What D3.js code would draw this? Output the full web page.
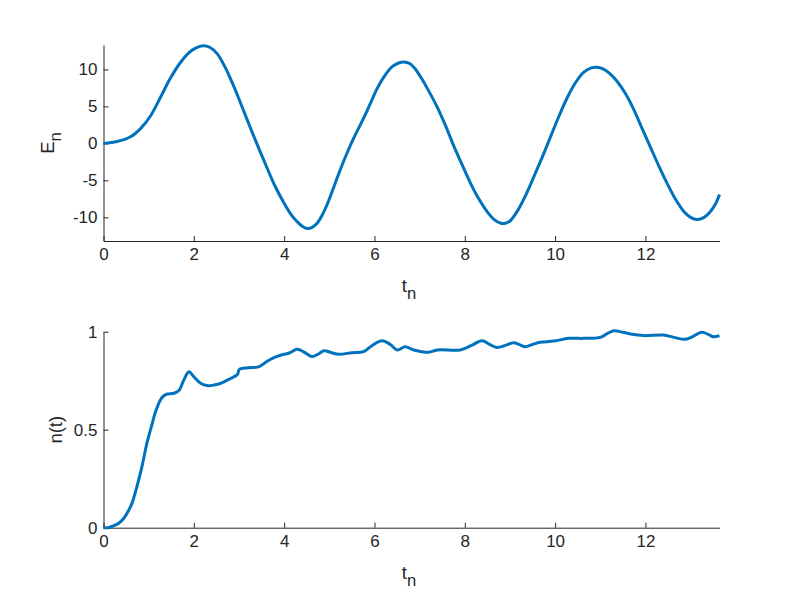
<!DOCTYPE html>
<html>
<head>
<meta charset="utf-8">
<script src="https://cdn.jsdelivr.net/npm/d3@7"></script>
<style>
  html, body { margin: 0; padding: 0; background: #fff; }
  svg { display: block; }
  text { font-family: "Liberation Sans", Arial, Helvetica, sans-serif; fill: #262626; }
</style>
</head>
<body>
<script>
// ---- data ----
const tE = [0, 0.3, 0.6, 0.82, 1.04, 1.26, 1.48, 1.7, 1.9, 2.05, 2.2, 2.35, 2.52, 2.7, 2.85, 3.0, 3.2, 3.4, 3.62, 3.8, 3.99, 4.15, 4.29, 4.4, 4.51, 4.62, 4.73, 4.85, 4.95, 5.1, 5.24, 5.4, 5.54, 5.76, 5.91, 6.05, 6.21, 6.4, 6.55, 6.65, 6.78, 6.9, 7.02, 7.2, 7.39, 7.58, 7.76, 7.95, 8.12, 8.3, 8.49, 8.65, 8.8, 8.9, 9.0, 9.16, 9.35, 9.53, 9.72, 9.9, 10.08, 10.27, 10.45, 10.63, 10.8, 10.93, 11.05, 11.2, 11.37, 11.55, 11.74, 11.92, 12.11, 12.3, 12.48, 12.67, 12.85, 13.0, 13.14, 13.3, 13.44, 13.55, 13.64];
const E  = [0, 0.25, 0.9, 2.0, 3.7, 6.2, 8.8, 10.9, 12.3, 12.9, 13.2, 13.0, 12.1, 10.2, 8.2, 6.0, 2.9, -0.1, -3.3, -5.8, -8.0, -9.6, -10.6, -11.2, -11.5, -11.35, -10.8, -9.6, -8.3, -5.9, -3.6, -1.2, 0.7, 3.4, 5.4, 7.3, 9.0, 10.4, 10.9, 11.0, 10.8, 10.1, 9.0, 7.1, 4.9, 2.3, -0.4, -3.0, -5.3, -7.4, -9.2, -10.3, -10.8, -10.8, -10.5, -9.2, -7.0, -4.5, -1.8, 0.9, 3.6, 6.2, 8.2, 9.6, 10.2, 10.3, 10.1, 9.5, 8.4, 6.8, 4.6, 2.1, -0.5, -3.1, -5.4, -7.6, -9.2, -10.0, -10.3, -10.0, -9.2, -8.2, -6.9];

const tN = [0, 0.1, 0.22, 0.35, 0.45, 0.55, 0.63, 0.74, 0.85, 0.96, 1.07, 1.15, 1.26, 1.33, 1.41, 1.56, 1.67, 1.78, 1.89, 2.0, 2.15, 2.3, 2.45, 2.6, 2.8, 2.97, 3.0, 3.1, 3.3, 3.45, 3.6, 3.75, 3.92, 4.1, 4.29, 4.45, 4.62, 4.75, 4.88, 5.05, 5.21, 5.5, 5.76, 5.95, 6.17, 6.35, 6.5, 6.68, 6.87, 7.2, 7.39, 7.9, 8.15, 8.38, 8.55, 8.71, 8.9, 9.08, 9.2, 9.34, 9.5, 9.67, 9.97, 10.3, 10.63, 11.0, 11.15, 11.3, 11.5, 11.67, 11.96, 12.4, 12.63, 12.88, 13.0, 13.25, 13.4, 13.51, 13.64];
const N  = [0, 0.0, 0.009, 0.025, 0.048, 0.085, 0.124, 0.21, 0.31, 0.43, 0.524, 0.59, 0.652, 0.672, 0.682, 0.686, 0.70, 0.754, 0.796, 0.77, 0.737, 0.725, 0.728, 0.737, 0.76, 0.783, 0.806, 0.814, 0.817, 0.822, 0.845, 0.865, 0.88, 0.89, 0.91, 0.895, 0.873, 0.885, 0.903, 0.893, 0.885, 0.893, 0.898, 0.93, 0.954, 0.935, 0.907, 0.923, 0.907, 0.895, 0.907, 0.907, 0.93, 0.954, 0.935, 0.92, 0.93, 0.944, 0.935, 0.923, 0.935, 0.946, 0.952, 0.966, 0.966, 0.971, 0.99, 1.005, 0.997, 0.988, 0.98, 0.983, 0.971, 0.961, 0.97, 0.997, 0.985, 0.974, 0.98];

const xTicks = [0, 2, 4, 6, 8, 10, 12];
const eTicks = [-10, -5, 0, 5, 10];
const nTicks = [0, 0.5, 1];

const W = 796, H = 604;
const svg = d3.select("body").append("svg").attr("width", W).attr("height", H);

const x = d3.scaleLinear().domain([0, 13.64]).range([103.5, 719.5]);
const yE = d3.scaleLinear().domain([-13.2, 13.3]).range([241, 45]);
const yN = d3.scaleLinear().domain([0, 1]).range([527.7, 331.7]);

const axisColor = "#262626";
const tickFont = 17;
const labelFont = 18.5;

function drawAxes(yScale, yTicks, yFmt, x0, yBottom) {
  const gx = svg.append("g").attr("transform", `translate(0,${yBottom})`)
    .call(d3.axisBottom(x).tickValues(xTicks).tickSizeInner(-5).tickSizeOuter(0).tickPadding(7).tickFormat(d3.format("d")));
  const gy = svg.append("g").attr("transform", `translate(${x0},0)`)
    .call(d3.axisLeft(yScale).tickValues(yTicks).tickSizeInner(-5).tickSizeOuter(0).tickPadding(6).tickFormat(yFmt));
  [gx, gy].forEach(g => {
    g.select(".domain").attr("stroke", axisColor).attr("stroke-width", 1);
    g.selectAll(".tick line").attr("stroke", axisColor).attr("stroke-width", 1);
    g.selectAll(".tick text").attr("font-size", tickFont).attr("font-family", "Liberation Sans, Arial, sans-serif").attr("fill", axisColor);
  });
}

drawAxes(yE, eTicks, d => String(d), x(0), 241);
drawAxes(yN, nTicks, d => String(d), x(0), 527.7);

const lineColor = "#0072BD";

const eData = tE.map((t, i) => [t, E[i]]);
const nData = tN.map((t, i) => [t, N[i]]);

svg.append("path").datum(eData)
  .attr("fill", "none").attr("stroke", lineColor).attr("stroke-width", 3).attr("stroke-linejoin", "round")
  .attr("d", d3.line().x(d => x(d[0])).y(d => yE(d[1])).curve(d3.curveCatmullRom.alpha(0.5)));

svg.append("path").datum(nData)
  .attr("fill", "none").attr("stroke", lineColor).attr("stroke-width", 3).attr("stroke-linejoin", "round")
  .attr("d", d3.line().x(d => x(d[0])).y(d => yN(d[1])).curve(d3.curveCatmullRom.alpha(0.5)));

// axis labels
function subLabel(xp, yp, main, sub, rotate) {
  const t = svg.append("text")
    .attr("font-size", labelFont)
    .attr("text-anchor", "middle");
  if (rotate) t.attr("transform", `translate(${xp},${yp}) rotate(-90)`);
  else t.attr("transform", `translate(${xp},${yp})`);
  t.append("tspan").text(main);
  if (sub) t.append("tspan").attr("font-size", labelFont * 0.9).attr("dy", 7).text(sub);
  return t;
}

subLabel(409, 292, "t", "n", false);
subLabel(409, 578.7, "t", "n", false);
subLabel(53.5, 143, "E", "n", true);
subLabel(62, 429.7, "n(t)", null, true);
</script>
</body>
</html>
